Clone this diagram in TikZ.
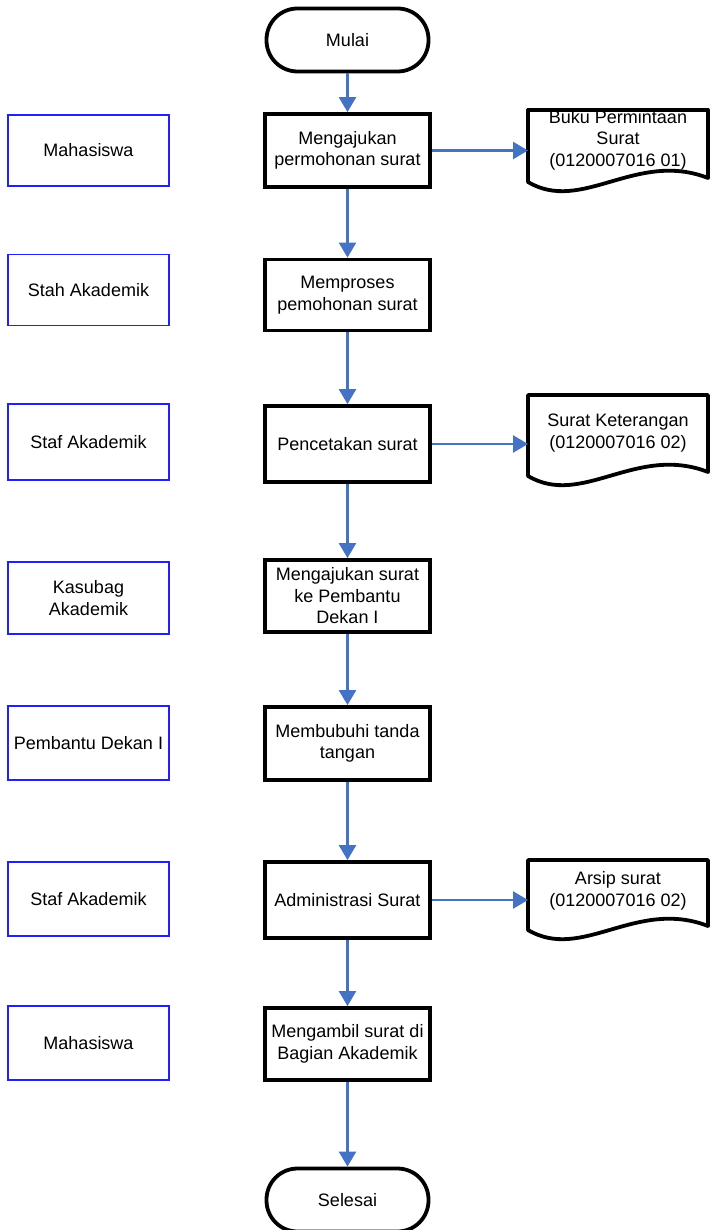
\documentclass[tikz,border=0pt]{standalone}
\usepackage{fontspec}
\setmainfont{Liberation Sans}
\usetikzlibrary{arrows.meta}
\definecolor{arrowblue}{HTML}{4472C4}
\definecolor{roleblue}{HTML}{1F1FFF}
\begin{document}
\begin{tikzpicture}[x=1pt,y=-1pt,
  every node/.style={font=\fontsize{18}{21.5}\selectfont, align=center, inner sep=0pt},
  proc/.style={draw=black, line width=3.8pt, fill=white, minimum width=165pt, minimum height=73pt},
  term/.style={draw=black, line width=3.8pt, fill=white, rounded corners=31pt, minimum width=162pt, minimum height=63pt},
  role/.style={draw=roleblue, line width=1.2pt, minimum width=161pt, minimum height=71pt},
  flow/.style={draw=arrowblue, line width=2.5pt, -{Triangle[width=17pt,length=15pt]}},
  docline/.style={draw=black, line width=3.8pt, line join=round, fill=white}
]
\useasboundingbox (0,0) rectangle (711,1230);

% documents (shapes)
\newcommand{\docshape}[4]{% left, right, top, leftbottom
  \path[docline] (#1,#4) -- (#1,#3) -- (#2,#3) -- (#2,#4-4)
    .. controls ({#1+0.6*(#2-#1)},#4-32) and ({#1+0.3*(#2-#1)},#4+32) .. (#1,#4) -- cycle;}
\docshape{528}{708}{110}{182}
\docshape{528}{708}{395}{476}
\docshape{528}{708}{860}{930}
\node (d1) at (618,140) {Buku Permintaan\\Surat\\(0120007016 01)};
\draw[line width=3.8pt, line cap=round] (528,110) -- (708,110);
\node (d2) at (618,433) {Surat Keterangan\\(0120007016 02)};
\node (d3) at (618,891) {Arsip surat\\(0120007016 02)};
\coordinate (d1w) at (528,150.5);
\coordinate (d2w) at (528,444);
\coordinate (d3w) at (528,900);

% terminals
\node[term] (start) at (347.5,40) {Mulai};
\node[term] (end) at (347.5,1200) {Selesai};

% process boxes
\node[proc] (p1) at (347.5,150.5) {Mengajukan\\permohonan surat};
\node[proc, minimum height=71pt] (p2) at (347.5,295) {Memproses\\pemohonan surat};
\node[proc, minimum height=76pt] (p3) at (347.5,444) {Pencetakan surat};
\node[proc, minimum height=72pt] (p4) at (347.5,596) {Mengajukan surat\\ke Pembantu\\Dekan I};
\node[proc] (p5) at (347.5,743.5) {Membubuhi tanda\\tangan};
\node[proc, minimum height=76pt] (p6) at (347.5,900) {Administrasi Surat};
\node[proc, minimum height=72pt] (p7) at (347.5,1044) {Mengambil surat di\\Bagian Akademik};

% roles
\node[role] (r1) at (88.5,150.5) {Mahasiswa};
\node[role] (r2) at (88.5,290) {Stah Akademik};
\node[role, minimum height=76pt] (r3) at (88.5,442) {Staf Akademik};
\node[role, minimum height=72pt] (r4) at (88.5,598) {Kasubag\\Akademik};
\node[role, minimum height=74pt] (r5) at (88.5,743) {Pembantu Dekan I};
\node[role, minimum height=74pt] (r6) at (88.5,899) {Staf Akademik};
\node[role, minimum height=74pt] (r7) at (88.5,1043) {Mahasiswa};

% connectors
\draw[flow] (start.south) -- (p1.north);
\draw[flow] (p1.south) -- (p2.north);
\draw[flow] (p2.south) -- (p3.north);
\draw[flow] (p3.south) -- (p4.north);
\draw[flow] (p4.south) -- (p5.north);
\draw[flow] (p5.south) -- (p6.north);
\draw[flow] (p6.south) -- (p7.north);
\draw[flow] (p7.south) -- (end.north);
\draw[flow] (p1.east) -- (d1w);
\draw[flow] (p3.east) -- (d2w);
\draw[flow] (p6.east) -- (d3w);
\end{tikzpicture}
\end{document}
